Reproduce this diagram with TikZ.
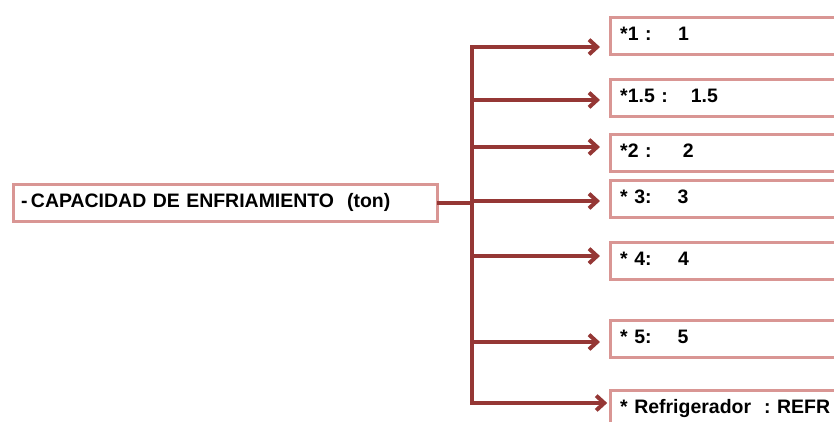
\documentclass[tikz,border=0pt]{standalone}
\usepackage{fontspec}
\setmainfont{Liberation Sans}
\usetikzlibrary{arrows.meta}
\definecolor{rim}{RGB}{217,150,148}
\definecolor{branch}{RGB}{149,55,53}
% option label with its value set at a fixed offset
\newcommand{\kv}[3]{\makebox[#3][l]{#1}#2}

\begin{document}
\begin{tikzpicture}[x=0.75pt,y=-0.75pt,>={Straight Barb[length=6pt,width=11pt]},
	font=\bfseries\fontsize{14.6}{17}\selectfont,
	capbox/.style={draw=rim, line width=2.6pt, fill=white, anchor=north west,
		minimum width=318pt, minimum height=27.75pt, text width=306pt, inner xsep=6pt,
		align=left, text height=11pt, text depth=3.5pt},
	optbox/.style={draw=rim, line width=2.6pt, fill=white, anchor=north west,
		minimum width=189pt, minimum height=27.75pt, text width=174pt, inner xsep=7.5pt,
		align=left, text height=11pt, text depth=3.5pt},
	link/.style={draw=branch, line width=3pt, line cap=rect}]

\useasboundingbox (0,0) rectangle (834,421);
\clip (0,0) rectangle (834,421);

%----------------------------
% Left: attribute
%----------------------------
\node[capbox] (cap) at (11.5,182.5) {-\,CAPACIDAD DE ENFRIAMIENTO~~(ton)};

%----------------------------
% Right: values
%----------------------------
\node[optbox] (o1) at (608.5,15.5)  {\kv{*1 :}{1}{43.5pt}};
\node[optbox] (o2) at (608.5,77.5)  {\kv{*1.5 :}{1.5}{53pt}};
\node[optbox] (o3) at (608.5,132.5) {\kv{*2 :}{2}{47pt}};
\node[optbox] (o4) at (608.5,178.5) {\kv{* 3:}{3}{43pt}};
\node[optbox] (o5) at (608.5,240.5) {\kv{* 4:}{4}{43.5pt}};
\node[optbox] (o6) at (608.5,318.5) {\kv{* 5:}{5}{43pt}};
\node[optbox] (o7) at (608.5,388.5) {* Refrigerador~~:~REFR};

%----------------------------
% Trunk and branches
%----------------------------
\foreach \n/\y in {1/47,2/100,3/147,4/201,5/256,6/342,7/403}
	\coordinate (t\n) at (472,\y);

\draw[link] (cap.east) -- (cap.east -| t1);
\draw[link] (t1) -- (t7);
\foreach \n in {1,...,6}
	\draw[link,->,shorten >=6.4pt] (t\n) -- (t\n -| o\n.west);
\draw[link,->,shorten >=1pt] (t7) -- (t7 -| o7.west);
\end{tikzpicture}
\end{document}
